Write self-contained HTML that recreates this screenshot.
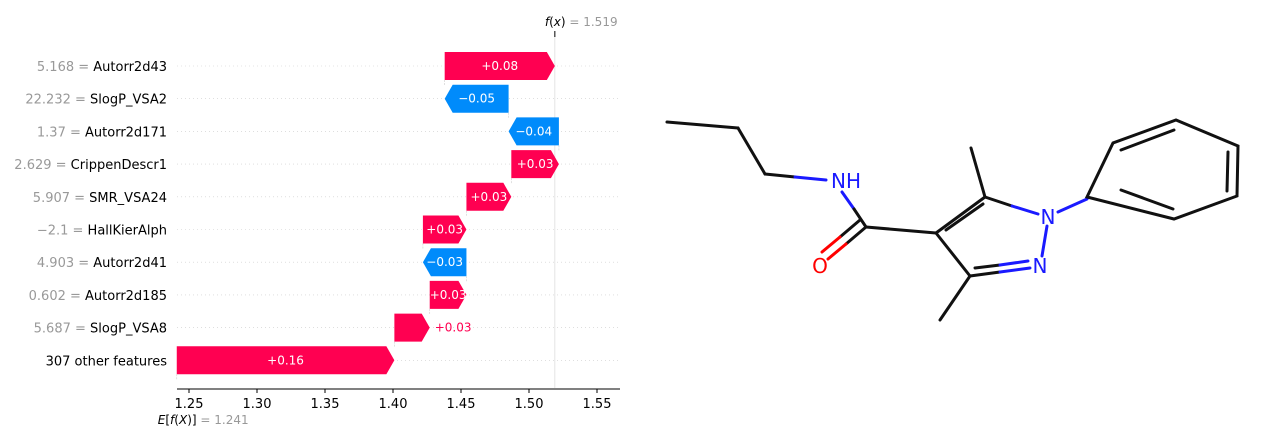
<!DOCTYPE html>
<html><head><meta charset="utf-8"><style>
html,body{margin:0;padding:0;background:#fff;}
svg{display:block;font-family:"DejaVu Sans","Liberation Sans",sans-serif;}
</style></head><body>
<svg id="chart" width="1270" height="441" viewBox="0 0 1270 441">
<g id="plot"></g>
<g id="mol" stroke-width="3" stroke-linecap="round" fill="none">
  <line x1="667" y1="122" x2="738" y2="128" stroke="#111"/>
  <line x1="738" y1="128" x2="765" y2="174" stroke="#111"/>
  <line x1="765" y1="174" x2="795" y2="177" stroke="#111"/>
  <line x1="795" y1="177" x2="826" y2="180" stroke="#1a1aff"/>
  <line x1="842" y1="192" x2="854" y2="209" stroke="#1a1aff"/>
  <line x1="854" y1="209" x2="866" y2="227" stroke="#111"/>
  <line x1="866" y1="227" x2="846" y2="244" stroke="#111"/>
  <line x1="846" y1="244" x2="828" y2="259" stroke="#f00"/>
  <line x1="860" y1="220" x2="840" y2="237" stroke="#111"/>
  <line x1="840" y1="237" x2="822" y2="252" stroke="#f00"/>
  <line x1="866" y1="227" x2="936" y2="233" stroke="#111"/>
  <line x1="936" y1="233" x2="985" y2="197" stroke="#111"/>
  <line x1="946" y1="230" x2="983" y2="204" stroke="#111"/>
  <line x1="985" y1="197" x2="971" y2="148" stroke="#111"/>
  <line x1="985" y1="197" x2="1012" y2="206" stroke="#111"/>
  <line x1="1012" y1="206" x2="1038" y2="214" stroke="#1a1aff"/>
  <line x1="1047" y1="226" x2="1042" y2="256" stroke="#1a1aff"/>
  <line x1="1058" y1="212" x2="1087" y2="199" stroke="#1a1aff"/>
  <line x1="936" y1="233" x2="970" y2="276" stroke="#111"/>
  <line x1="970" y1="276" x2="1000" y2="272" stroke="#111"/>
  <line x1="1000" y1="272" x2="1030" y2="268" stroke="#1a1aff"/>
  <line x1="975" y1="268" x2="1000" y2="265" stroke="#111"/>
  <line x1="1000" y1="265" x2="1028" y2="261" stroke="#1a1aff"/>
  <line x1="970" y1="276" x2="940" y2="320" stroke="#111"/>
  <polygon points="1087,197 1113,143 1176,120 1238,146 1237,196 1174,219" stroke="#111"/>
  <line x1="1121" y1="150" x2="1174" y2="130" stroke="#111"/>
  <line x1="1228" y1="152" x2="1227" y2="191" stroke="#111"/>
  <line x1="1173" y1="209" x2="1121" y2="190" stroke="#111"/>
  <g stroke="none" font-size="20">
    <text x="846" y="188" text-anchor="middle" fill="#1a1aff">NH</text>
    <text x="820" y="273" text-anchor="middle" fill="#f00">O</text>
    <text x="1048" y="224" text-anchor="middle" fill="#1a1aff">N</text>
    <text x="1040" y="273" text-anchor="middle" fill="#1a1aff">N</text>
  </g>
</g>
</svg>
<script>
const featureNames = ["5.168 = |Autorr2d43","22.232 = |SlogP_VSA2","1.37 = |Autorr2d171","2.629 = |CrippenDescr1","5.907 = |SMR_VSA24","\u22122.1 = |HallKierAlph","4.903 = |Autorr2d41","0.602 = |Autorr2d185","5.687 = |SlogP_VSA8","|307 other features"];
const shapValues = [0.081,-0.047,-0.037,0.035,0.033,0.032,-0.032,0.027,0.026,0.16];
const valueLabels = ["+0.08","\u22120.05","\u22120.04","+0.03","+0.03","+0.03","\u22120.03","+0.03","+0.03","+0.16"];
const baseValue = 1.241;
const tickValues = [1.25,1.30,1.35,1.40,1.45,1.50,1.55];
const NS="http://www.w3.org/2000/svg";
const g=document.getElementById('plot');
const x0=177,x1=620;
const xs=v=>393+(v-1.40)*1360;
const ys=i=>66+i*32.7;
const RED="#ff0051",BLUE="#008bfb";
function el(t,a,p){const e=document.createElementNS(NS,t);for(const k in a)e.setAttribute(k,a[k]);(p||g).appendChild(e);return e;}
let fx=baseValue+shapValues.reduce((a,b)=>a+b,0);
featureNames.forEach((n,i)=>{
  const l=el('line',{x1:x0,x2:x1,y1:ys(i),y2:ys(i),stroke:'#ccc','stroke-width':0.6,'stroke-dasharray':'1 3'});
  
  
});
const fl=el('line',{x1:xs(fx),x2:xs(fx),y1:36,y2:388,stroke:'#ddd','stroke-width':0.8});


let cur=baseValue;
for(let i=featureNames.length-1;i>=0;i--){
  const v=shapValues[i],s=cur,e=cur+v;cur=e;
  const y=ys(i),h=28,yt=y-h/2,yb=y+h/2;
  const a=xs(s),b=xs(e);const dir=v>=0?1:-1;
  const w=Math.abs(b-a);const tip=Math.min(8,w);
  const pts=[[a,yt],[b-dir*tip,yt],[b,y],[b-dir*tip,yb],[a,yb]];
  const bar=el('polygon',{points:pts.map(p=>p.join(',')).join(' '),fill:v>=0?RED:BLUE});
  
  
  const vl=el('line',{x1:a,x2:a,y1:yb,y2:yb+6,stroke:'#ccc','stroke-width':0.6,'stroke-dasharray':'2 1'});
  
  
  const inside=w>36;
  const t=el('text',{x:inside?(a+b)/2:Math.max(a,b)+5,y:y+4,'font-size':12,'text-anchor':inside?'middle':'start',fill:inside?'#fff':RED});
  t.textContent=valueLabels[i];
  
  
  const parts=featureNames[i].split('|');
  const ft=el('text',{x:167,y:y+5,'font-size':13,'text-anchor':'end',fill:'#000'});
  
  
  if(parts[0]){const ts=el('tspan',{fill:'#999'},ft);ts.textContent=parts[0]+' ';}
  const ts2=el('tspan',{},ft);ts2.textContent=parts[1];
}
const ax=el('line',{x1:x0,x2:x1,y1:389,y2:389,stroke:'#000','stroke-width':1});


tickValues.forEach(v=>{
  const tk=el('line',{x1:xs(v),x2:xs(v),y1:389,y2:393,stroke:'#000'});
  
  
  const tl=el('text',{x:xs(v),y:408,'font-size':13,'text-anchor':'middle',fill:'#000'});
  tl.textContent=v.toFixed(2);
  
  
});
const et=el('text',{x:xs(baseValue)-19,y:424,'font-size':12,'text-anchor':'start'});


et.innerHTML='<tspan font-style="italic">E</tspan>[<tspan font-style="italic">f</tspan>(<tspan font-style="italic">X</tspan>)] <tspan fill="#999">= '+baseValue.toFixed(3)+'</tspan>';
const ft2=el('text',{x:xs(fx)-10,y:26,'font-size':12,'text-anchor':'start'});


ft2.innerHTML='<tspan font-style="italic">f</tspan>(<tspan font-style="italic">x</tspan>) <tspan fill="#999">= '+fx.toFixed(3)+'</tspan>';
const fk=el('line',{x1:xs(fx),x2:xs(fx),y1:31,y2:37,stroke:'#000'});


</script>
</body></html>
